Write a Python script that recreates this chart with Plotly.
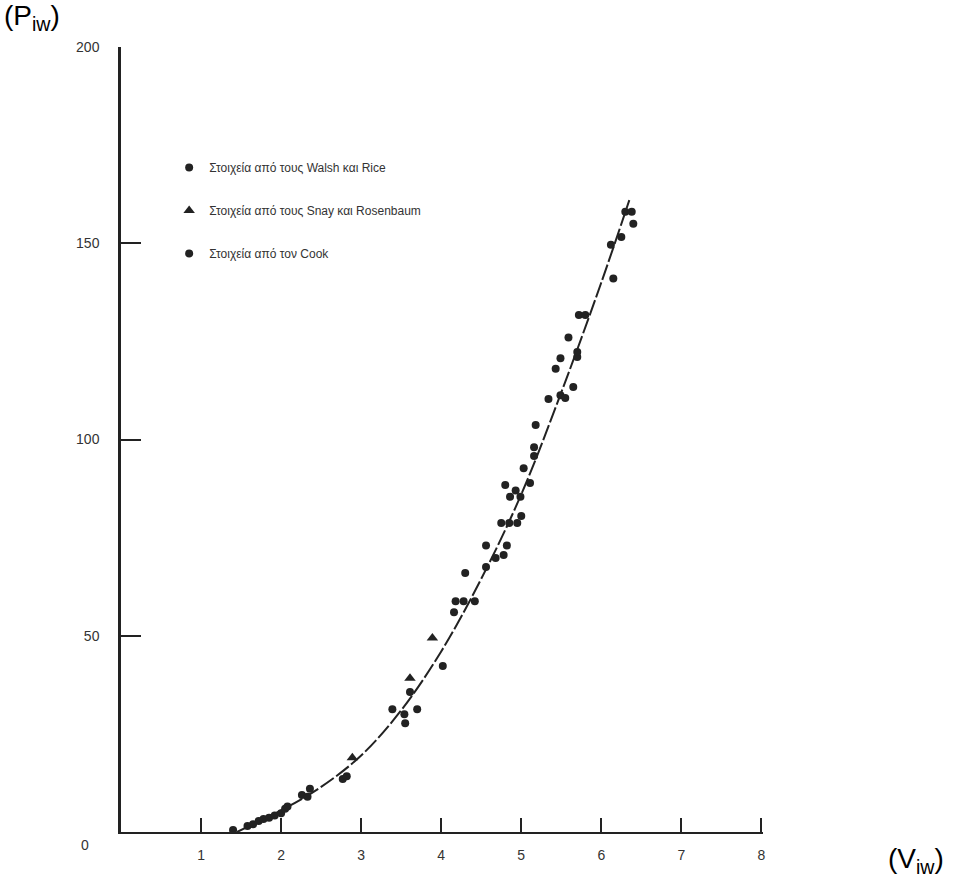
import plotly.graph_objects as go

# Data
walsh_v = [1.40, 1.58, 1.65, 1.72, 1.78, 1.85, 1.92, 2.00, 2.05, 2.08, 2.26, 2.33, 2.36, 2.77, 2.82,
           3.39, 3.54, 3.55, 3.70, 3.61, 4.02]
walsh_p = [0.5, 1.5, 2.0, 2.8, 3.3, 3.6, 4.2, 4.8, 5.9, 6.5, 9.4, 9.0, 11.0, 13.5, 14.2,
           31.3, 30.0, 27.7, 31.3, 35.7, 42.3]

snay_v = [2.89, 3.61, 3.89]
snay_p = [18.9, 39.2, 49.4]

cook_v = [4.16, 4.18, 4.28, 4.42, 4.30, 4.56, 4.56, 4.68, 4.78, 4.82, 4.75, 4.85, 4.95, 5.00,
          4.86, 4.99, 4.80, 4.93, 5.11, 5.03, 5.16, 5.16, 5.18, 5.34, 5.49, 5.55, 5.65, 5.43,
          5.49, 5.70, 5.70, 5.59, 5.72, 5.80, 6.15, 6.12, 6.25, 6.30, 6.38, 6.40]
cook_p = [56.0, 58.8, 58.8, 58.8, 66.0, 67.5, 73.0, 69.8, 70.6, 73.0, 78.7, 78.7, 78.7, 80.5,
          85.4, 85.4, 88.4, 87.0, 88.9, 92.7, 95.8, 98.0, 103.7, 110.3, 111.3, 110.6, 113.4, 118.0,
          120.7, 121.0, 122.3, 126.0, 131.7, 131.7, 141.0, 149.6, 151.6, 158.0, 158.0, 155.0]

curve_v = [1.45, 1.6, 2.0, 2.5, 3.0, 3.5, 4.0, 4.5, 5.0, 5.5, 6.0, 6.35]
curve_p = [0.0, 1.5, 5.5, 11.5, 19.5, 31.0, 46.0, 64.5, 86.0, 112.0, 140.0, 161.0]

x_ticks = [1, 2, 3, 4, 5, 6, 7, 8]
y_ticks = [50, 100, 150, 200]

labels = ["Στοιχεία από τους Walsh και Rice",
          "Στοιχεία από τους Snay και Rosenbaum",
          "Στοιχεία από τον Cook"]

ink = "#222222"
fig = go.Figure()

fig.add_trace(go.Scatter(x=curve_v, y=curve_p, mode="lines", line_shape="spline",
                         line=dict(color=ink, width=2, dash="16px,3px"),
                         showlegend=False, hoverinfo="skip"))

fig.add_trace(go.Scatter(x=walsh_v, y=walsh_p, mode="markers", name=labels[0],
                         legendgroup="a",
                         marker=dict(symbol="circle", size=8, color=ink)))
fig.add_trace(go.Scatter(x=snay_v, y=snay_p, mode="markers", name=labels[1],
                         legendgroup="b",
                         marker=dict(symbol="triangle-up", size=10, color=ink)))
fig.add_trace(go.Scatter(x=cook_v, y=cook_p, mode="markers", name=labels[2],
                         legendgroup="c",
                         marker=dict(symbol="circle", size=8, color=ink)))

tickfont = dict(family="Liberation Sans, Arial, sans-serif", size=14, color="#333333")

fig.update_layout(
    width=953, height=883,
    margin=dict(l=121, r=190, t=47, b=51),
    plot_bgcolor="white", paper_bgcolor="white",
    legend=dict(x=0.075, y=0.865, xanchor="left", yanchor="top",
                traceorder="grouped", tracegroupgap=24,
                font=dict(family="Liberation Sans, Arial, sans-serif", size=12, color="#333333"),
                bgcolor="rgba(0,0,0,0)"),
    xaxis=dict(range=[0, 8.02], tickvals=x_ticks, ticktext=[str(t) for t in x_ticks],
               showgrid=False, zeroline=False, showline=True, linecolor=ink, linewidth=2,
               ticks="inside", ticklen=14, tickwidth=2, tickcolor=ink,
               tickfont=tickfont, ticklabelstandoff=9),
    yaxis=dict(range=[0, 200], tickvals=y_ticks, ticktext=[str(t) for t in y_ticks],
               showgrid=False, zeroline=False, showline=True, linecolor=ink, linewidth=2.5,
               ticks="inside", ticklen=20, tickwidth=2, tickcolor=ink,
               tickfont=tickfont, ticklabelstandoff=16),
    annotations=[
        dict(text="0", xref="paper", yref="paper", x=-0.056, y=-0.017,
             showarrow=False, font=tickfont, xanchor="center", yanchor="middle"),
        dict(text="(P<sub>iw</sub>)", xref="paper", yref="paper",
             x=-119/642, y=1.062, xanchor="left", yanchor="top", showarrow=False,
             font=dict(family="Liberation Sans, Arial, sans-serif", size=28, color="black")),
        dict(text="(V<sub>iw</sub>)", xref="paper", yref="paper",
             x=(886-121)/642, y=-0.012, xanchor="left", yanchor="top", showarrow=False,
             font=dict(family="Liberation Sans, Arial, sans-serif", size=28, color="black")),
    ],
)

fig.write_html("out.html")
